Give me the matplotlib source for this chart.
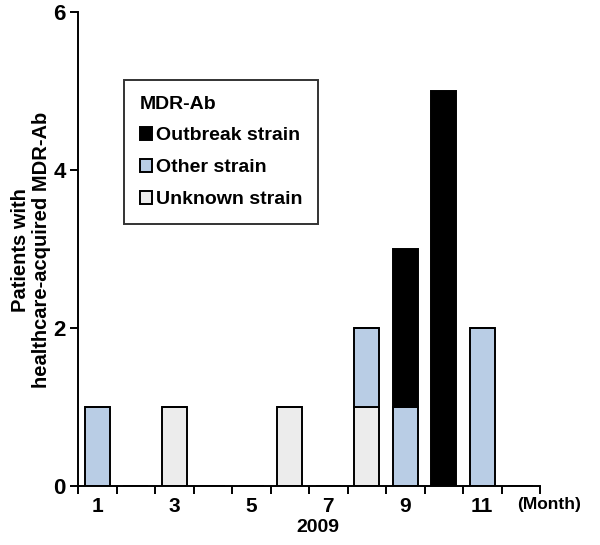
import numpy as np
import matplotlib.pyplot as plt
import matplotlib.ticker as ticker

plt.rcParams['font.family'] = ['Liberation Sans', 'DejaVu Sans']
plt.rcParams['font.weight'] = 'bold'

months = np.arange(1, 13)
unknown = [0, 0, 1, 0, 0, 1, 0, 1, 0, 0, 0, 0]
other = [1, 0, 0, 0, 0, 0, 0, 1, 1, 0, 2, 0]
outbreak = [0, 0, 0, 0, 0, 0, 0, 0, 2, 5, 0, 0]
month_labels = ['1', '3', '5', '7', '9', '11']

fig = plt.figure(figsize=(6, 5.45), dpi=100)
ax = fig.add_axes([0.13, 0.108, 0.77, 0.87])

w = 0.66
unknown = np.array(unknown)
other = np.array(other)
outbreak = np.array(outbreak)
kw = dict(width=w, edgecolor='black', linewidth=1.4)
ax.bar(months, unknown, color='#ececec', label='Unknown strain', **kw)
ax.bar(months, other, bottom=unknown, color='#b9cde5', label='Other strain', **kw)
ax.bar(months, outbreak, bottom=unknown + other, color='black', label='Outbreak strain', **kw)

ax.set_xlim(0.5, 12.5)
ax.set_ylim(0, 6)
ax.yaxis.set_major_locator(ticker.MultipleLocator(2))
ax.set_xticks(np.arange(0.5, 13, 1))
ax.set_xticklabels([])
ax.set_xticks([1, 3, 5, 7, 9, 11], minor=True)
ax.set_xticklabels(month_labels, minor=True)
ax.tick_params(axis='x', which='major', length=6, width=1.4)
ax.tick_params(axis='x', which='minor', length=0, pad=8, labelsize=15)
ax.tick_params(axis='y', length=6, width=1.4, labelsize=16, pad=3)

for s in ['top', 'right']:
    ax.spines[s].set_visible(False)
for s in ['left', 'bottom']:
    ax.spines[s].set_linewidth(1.4)

fig.text(31 / 600, 1 - 250 / 545, 'Patients with\nhealthcare-acquired MDR-Ab',
         rotation=90, ha='center', va='center', fontsize=14.5, fontweight='bold',
         linespacing=1.15)
fig.text(549 / 600, 1 - 505 / 545, '(Month)', ha='center', va='center',
         fontsize=12.5, fontweight='bold')
fig.text(318 / 600, 1 - 527 / 545, '2009', ha='center', va='center',
         fontsize=14, fontweight='bold')

handles, labels = ax.get_legend_handles_labels()
leg = ax.legend(handles[::-1], labels[::-1], title='MDR-Ab', loc='upper left',
                bbox_to_anchor=(124 / 600, 1 - 80 / 545), bbox_transform=fig.transFigure,
                borderaxespad=0, frameon=True, fancybox=False,
                edgecolor='black', fontsize=14, title_fontsize=14,
                handlelength=0.65, handleheight=0.65, handletextpad=0.2,
                labelspacing=0.75, borderpad=0.8)
leg.get_frame().set_linewidth(1.4)
leg.get_title().set_fontweight('bold')
leg._legend_box.align = 'left'

fig.savefig('out.png', dpi=100)
